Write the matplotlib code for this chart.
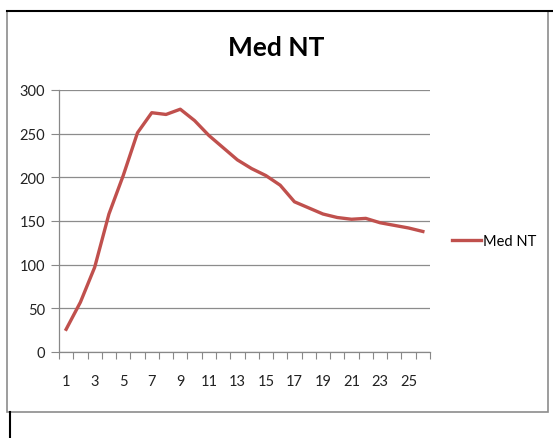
import matplotlib
matplotlib.use("Agg")
import matplotlib.pyplot as plt
from matplotlib.lines import Line2D
from matplotlib.patches import Rectangle

# Serie Med NT
dias = list(range(1, 27))
med_nt = [26, 57, 97, 158, 202, 251, 274, 272, 278, 265, 248, 234, 220, 210,
          202, 191, 172, 165, 158, 154, 152, 153, 148, 145, 142, 138]
ticks_y = [0, 50, 100, 150, 200, 250, 300]
color_linea = "#C0504D"

plt.rcParams["font.family"] = ["Lato", "DejaVu Sans"]

W, H = 553, 439
fig = plt.figure(figsize=(W / 100, H / 100), dpi=100)

def fx(px):
    return px / W

def fy(py):
    return 1 - py / H

# marco del grafico
fig.add_artist(Rectangle((fx(7), fy(413)), fx(548) - fx(7), fy(12) - fy(413),
                         transform=fig.transFigure, fill=False, ec="#8c8c8c", lw=1.2))
fig.add_artist(Line2D([fx(7), fx(553)], [fy(12), fy(12)], transform=fig.transFigure,
                      color="black", lw=1.5))
fig.add_artist(Line2D([fx(9.5), fx(9.5)], [fy(413), fy(439)], transform=fig.transFigure,
                      color="black", lw=1.5))

ax = fig.add_axes([fx(59), fy(353), fx(430) - fx(59), fy(91) - fy(353)])
ax.plot(dias, med_nt, color=color_linea, lw=2.4, label="Med NT", solid_joinstyle="round")

ax.set_xlim(0.5, 26.5)
ax.set_ylim(0, 300)
ax.set_yticks(ticks_y)
ax.set_yticklabels([str(v) for v in ticks_y])
ax.set_xticks([d for d in dias if d % 2 == 1])
ax.set_xticks([d + 0.5 for d in range(0, 27)], minor=True)
ax.tick_params(axis="x", which="major", length=0, pad=16, labelsize=10.5, colors="#222222")
ax.tick_params(axis="x", which="minor", length=5, width=0.8, color="#888888", direction="out")
ax.tick_params(axis="y", length=6, width=0.8, color="#888888", pad=4, labelsize=10.5,
               labelcolor="#222222")

ax.grid(axis="y", color="#8c8c8c", lw=0.9)
ax.set_axisbelow(True)
for s in ["top", "right"]:
    ax.spines[s].set_visible(False)
for s in ["left", "bottom"]:
    ax.spines[s].set_color("#888888")
    ax.spines[s].set_linewidth(0.9)

fig.text(fx(276), fy(48), "Med NT", ha="center", va="center", fontsize=19, fontweight="bold")

# leyenda a la derecha
ax.legend(loc="center left", bbox_to_anchor=(fx(445), fy(242)), bbox_transform=fig.transFigure,
          frameon=False, handlelength=2.0, handletextpad=0.1, fontsize=10.5, borderpad=0)

fig.savefig("out.png", dpi=100)
